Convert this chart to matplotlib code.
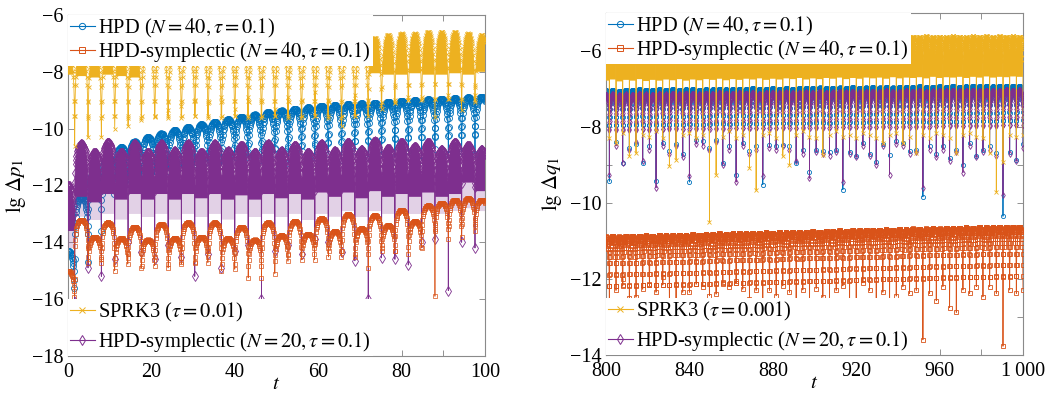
import numpy as np
import matplotlib
matplotlib.use("Agg")
import matplotlib.pyplot as plt
from matplotlib.lines import Line2D
from matplotlib.ticker import MultipleLocator, FuncFormatter

plt.rcParams['font.family'] = ['Liberation Serif', 'DejaVu Serif']
plt.rcParams['mathtext.fontset'] = 'stix'

C_BLUE, C_ORANGE, C_YELLOW, C_PURPLE = '#0072BD', '#D95319', '#EDB120', '#7E2F8E'

# ---------------------------------------------------------------- hump grid
HUMP_PERIOD = 3.2
LEFT_FIRST_CENTER, LEFT_N = 0.0, 32
RIGHT_FIRST_CENTER, RIGHT_N = 800.0, 63

# shape of one arch as read from the HPD arches: fraction of hump, drop below peak
HUMP_FRAC = [1/64, 1/32, 2/32, 3/32, 4/32, 5/32, 6/32, 7/32, 8/32,
             9/32, 10/32, 11/32, 12/32, 13/32, 14/32, 15/32, 16/32]
HUMP_DROP = [-1.31, -1.01, -0.71, -0.54, -0.42, -0.33, -0.25, -0.19, -0.15,
             -0.11, -0.08, -0.055, -0.035, -0.019, -0.008, -0.002, 0.0]

# ---------------------------------------------------------------- left panel (lg dp1)
BLUE_L_TOP = [-14.3, -12.4, -11.5, -11.0, -10.65, -10.45, -10.3, -10.17,
              -10.05, -9.95, -9.85, -9.76, -9.67, -9.58, -9.5, -9.42,
              -9.36, -9.3, -9.25, -9.2, -9.17, -9.14, -9.11, -9.08,
              -9.05, -9.02, -9.0, -8.97, -8.95, -8.92, -8.9, -8.88]
BLUE_L_DIP = [-16.2, -14.6, -14.7, -13.6, -12.2, -11.4, -11.3, -11.1,
              -11.0, -11.2, -10.9, -11.0, -11.3, -10.9, -11.0, -11.1,
              -10.9, -11.2, -10.8, -11.0, -10.9, -11.1, -10.8, -11.0,
              -10.9, -11.0, -10.8, -11.1, -10.7, -10.9, -10.8, -10.9,
              -10.6]

ORANGE_L_TOP = [-15.0, -13.2, -13.8, -13.3, -13.85, -13.45, -13.9, -13.35,
                -13.85, -13.3, -13.8, -13.3, -13.85, -13.45, -13.9, -13.3,
                -13.75, -13.25, -13.7, -13.15, -13.6, -13.0, -13.5, -13.05,
                -13.4, -12.85, -13.25, -12.7, -12.6, -12.5, -12.45, -12.5]
ORANGE_L_DIP = [-17.0, -15.3, -14.2, -14.6, -15.0, -14.4, -14.9, -14.5,
                -14.9, -14.7, -14.7, -14.3, -15.0, -14.95, -15.25, -15.25,
                -15.1, -14.4, -14.0, -14.0, -14.2, -14.3, -14.5, -14.9,
                -14.2, -14.3, -14.4, -14.2, -15.9, -13.9, -13.8, -13.6,
                -13.7]

YELLOW_L_TOP = [-7.2, -7.2, -7.25, -7.2, -7.2, -7.25, -7.2, -7.2,
                -7.25, -7.2, -7.2, -7.25, -7.2, -7.2, -7.25, -7.2,
                -7.2, -7.25, -7.2, -7.2, -7.25, -7.2, -7.2, -6.8,
                -6.7, -6.65, -6.65, -6.6, -6.6, -6.6, -6.65, -6.7]
YELLOW_L_LOW = [-8.1, -8.15, -8.2, -8.1, -8.15, -8.2, -7.2, -7.2,
                -7.25, -7.2, -7.2, -7.25, -7.2, -7.2, -7.25, -7.2,
                -7.2, -7.25, -7.2, -7.2, -7.25, -7.2, -7.2, -8.05,
                -8.1, -8.1, -8.05, -8.1, -8.1, -8.05, -8.1, -8.0]
YELLOW_L_DIP = [-11.0, -10.6, -10.3, -10.3, -10.0, -9.9, -9.7, -9.6,
                -9.35, -9.2, -9.0, -9.1, -8.9, -9.3, -8.9, -9.0,
                -9.3, -8.9, -9.0, -8.7, -9.0, -9.9, -8.8, -9.0,
                -9.3, -9.1, -8.9, -8.9, -9.6, -8.8, -9.35, -8.8,
                -8.8]

PURPLE_L_TOP = [-12.0, -10.55, -10.85, -10.5, -10.85, -10.55, -10.85, -10.55,
                -10.8, -10.55, -10.85, -10.55, -10.8, -10.6, -10.85, -10.55,
                -10.8, -10.6, -10.85, -10.55, -10.8, -10.5, -10.75, -10.45,
                -10.7, -10.5, -10.65, -10.5, -10.75, -10.5, -10.6, -10.75]
PURPLE_L_LOW = [-13.6, -12.4, -12.6, -12.3, -12.5, -12.3, -12.5, -12.3,
                -12.5, -12.3, -12.45, -12.3, -12.5, -12.35, -12.5, -12.3,
                -12.45, -12.3, -12.5, -12.25, -12.4, -12.25, -12.45, -12.2,
                -12.4, -12.3, -12.4, -12.25, -12.4, -12.3, -11.9, -12.2]
PURPLE_L_FADE = [-14.2, -13.1, -13.2, -13.0, -13.2, -13.0, -13.1, -13.0,
                 -13.2, -13.0, -13.1, -13.0, -13.2, -13.0, -13.1, -13.0,
                 -13.1, -13.0, -13.2, -13.0, -13.1, -12.9, -13.1, -12.9,
                 -13.0, -12.9, -13.0, -12.9, -13.0, -12.9, -12.8, -12.9]
PURPLE_L_DIP = [-16.5, -16.1, -14.9, -15.2, -14.6, -14.0, -14.35, -14.6,
                -14.1, -14.5, -15.2, -14.4, -14.9, -14.3, -14.1, -16.0,
                -14.3, -14.1, -14.4, -13.9, -14.0, -14.35, -14.65, -16.0,
                -14.55, -14.6, -14.8, -14.0, -13.9, -15.7, -14.0, -14.2,
                -13.7]

# ---------------------------------------------------------------- right panel (lg dq1)
BLUE_R_TOP = [-7.03, -7.02, -7.04, -7.02, -7.03, -7.01, -7.02, -7.03, -7.01, -7.02,
              -7.00, -7.02, -7.01, -7.00, -7.02, -7.00, -7.01, -6.99, -7.01, -7.00,
              -6.99, -7.00, -6.98, -7.00, -6.99, -6.98, -6.99, -6.97, -6.99, -6.98,
              -6.97, -6.98, -6.96, -6.98, -6.97, -6.96, -6.97, -6.95, -6.97, -6.96,
              -6.95, -6.96, -6.94, -6.96, -6.95, -6.94, -6.95, -6.93, -6.95, -6.94,
              -6.93, -6.94, -6.92, -6.94, -6.93, -6.92, -6.93, -6.92, -6.93, -6.92,
              -6.91, -6.92, -6.91]
BLUE_R_DIP = [-8.6, -9.43, -8.4, -8.95, -8.55, -8.45, -8.95, -8.5, -9.43, -8.42,
              -8.64, -8.46, -8.7, -9.45, -8.33, -8.38, -8.55, -8.33, -8.95, -8.51,
              -9.27, -8.42, -8.62, -8.51, -9.52, -8.48, -8.51, -8.48, -8.51, -8.95,
              -8.6, -9.18, -8.6, -8.62, -8.67, -8.6, -9.65, -8.65, -8.76, -8.42,
              -8.7, -8.93, -8.44, -8.73, -8.36, -8.42, -8.64, -8.6, -9.84, -8.51,
              -8.71, -8.51, -8.81, -8.6, -8.99, -8.42, -8.77, -8.6, -8.51, -8.68,
              -10.35, -8.65, -8.86, -8.46]

ORANGE_R_TOP = [-10.88, -10.87, -10.88, -10.86, -10.87, -10.86, -10.85, -10.86, -10.84, -10.85,
                -10.84, -10.83, -10.84, -10.82, -10.83, -10.81, -10.82, -10.80, -10.81, -10.80,
                -10.79, -10.80, -10.78, -10.79, -10.77, -10.78, -10.76, -10.77, -10.75, -10.76,
                -10.75, -10.74, -10.75, -10.73, -10.74, -10.72, -10.73, -10.71, -10.72, -10.70,
                -10.71, -10.70, -10.69, -10.70, -10.68, -10.69, -10.67, -10.68, -10.67, -10.66,
                -10.67, -10.65, -10.66, -10.65, -10.64, -10.65, -10.63, -10.64, -10.63, -10.62,
                -10.63, -10.62, -10.62]
ORANGE_R_LOW = [-11.15, -11.12, -11.14, -11.11, -11.13, -11.10, -11.12, -11.10, -11.09, -11.10,
                -11.08, -11.07, -11.09, -11.06, -11.07, -11.05, -11.06, -11.04, -11.05, -11.04,
                -11.03, -11.04, -11.02, -11.03, -11.01, -11.02, -11.00, -11.01, -10.99, -11.00,
                -10.99, -10.98, -10.99, -10.97, -10.98, -10.96, -10.97, -10.95, -10.96, -10.94,
                -10.95, -10.94, -10.93, -10.94, -10.92, -10.93, -10.91, -10.92, -10.91, -10.90,
                -10.91, -10.89, -10.90, -10.89, -10.88, -10.89, -10.87, -10.88, -10.87, -10.86,
                -10.87, -10.86, -10.86]
ORANGE_R_DIP = [-12.3, -13.43, -12.3, -12.0, -12.51, -12.48, -12.27, -12.13, -12.35, -11.95,
                -12.6, -12.62, -12.35, -12.35, -12.13, -12.2, -12.44, -12.4, -12.07, -12.2,
                -12.05, -12.27, -12.53, -12.3, -12.62, -12.3, -12.44, -12.18, -12.35, -12.77,
                -12.29, -12.98, -12.25, -12.48, -12.57, -12.3, -12.18, -13.25, -12.6, -12.1,
                -12.3, -12.79, -12.35, -12.94, -12.45, -12.2, -12.38, -12.3, -13.6, -12.38,
                -12.57, -12.2, -12.75, -12.88, -12.29, -12.38, -12.2, -12.47, -12.2, -12.38,
                -13.77, -12.29, -12.38, -12.29]

YELLOW_R_TOP = [-5.66, -5.65, -5.67, -5.65, -5.66, -5.64, -5.66, -5.65, -5.67, -5.65,
                -5.66, -5.64, -5.65, -5.66, -5.64, -5.65, -5.66, -5.64, -5.65, -5.63,
                -5.65, -5.64, -5.66, -5.64, -5.65, -5.63, -5.65, -5.64, -5.63, -5.65,
                -5.64, -5.63, -5.65, -5.63, -5.64, -5.62, -5.64, -5.63, -5.64, -5.62,
                -5.63, -5.64, -5.62, -5.63, -5.62, -5.64, -5.62, -5.63, -5.61, -5.63,
                -5.62, -5.63, -5.61, -5.62, -5.63, -5.61, -5.62, -5.61, -5.63, -5.61,
                -5.62, -5.61, -5.62]
YELLOW_R_LOW = [-6.78, -6.75, -6.80, -6.76, -6.78, -6.74, -6.79, -6.76, -6.78, -6.75,
                -6.77, -6.74, -6.78, -6.75, -6.77, -6.74, -6.76, -6.73, -6.77, -6.74,
                -6.76, -6.73, -6.75, -6.72, -6.76, -6.73, -6.75, -6.72, -6.74, -6.71,
                -6.75, -6.72, -6.74, -6.71, -6.73, -6.70, -6.74, -6.71, -6.73, -6.70,
                -6.72, -6.70, -6.73, -6.69, -6.72, -6.70, -6.71, -6.69, -6.72, -6.68,
                -6.71, -6.69, -6.70, -6.68, -6.71, -6.68, -6.70, -6.67, -6.70, -6.68,
                -6.69, -6.67, -6.68]
YELLOW_R_DIP = [-8.2, -8.3, -8.42, -8.15, -8.77, -8.69, -8.2, -8.25, -8.1, -8.3,
                -9.03, -8.86, -8.2, -8.15, -8.3, -8.2, -10.49, -9.25, -8.25, -8.1,
                -8.3, -8.2, -9.08, -9.67, -8.2, -8.15, -8.3, -8.77, -9.01, -8.2,
                -8.1, -8.25, -8.3, -8.73, -8.2, -8.1, -8.25, -8.2, -8.3, -8.15,
                -8.2, -8.3, -8.42, -8.2, -8.15, -8.42, -8.25, -8.69, -8.2, -8.3,
                -8.15, -8.2, -8.3, -8.69, -8.2, -8.15, -8.25, -8.3, -8.69, -9.72,
                -8.93, -8.2, -8.25, -8.2]

PURPLE_R_TOP = [-7.15, -7.14, -7.16, -7.14, -7.15, -7.13, -7.14, -7.15, -7.13, -7.14,
                -7.12, -7.14, -7.13, -7.12, -7.14, -7.12, -7.13, -7.11, -7.13, -7.12,
                -7.11, -7.12, -7.10, -7.12, -7.11, -7.10, -7.11, -7.09, -7.11, -7.10,
                -7.09, -7.10, -7.08, -7.10, -7.09, -7.08, -7.09, -7.07, -7.09, -7.08,
                -7.07, -7.08, -7.06, -7.08, -7.07, -7.06, -7.07, -7.05, -7.07, -7.06,
                -7.05, -7.06, -7.04, -7.06, -7.05, -7.04, -7.05, -7.04, -7.05, -7.04,
                -7.03, -7.04, -7.03]
PURPLE_R_DIP = [-8.7, -9.25, -8.5, -8.95, -8.6, -8.4, -8.9, -8.6, -9.6, -8.5,
                -8.7, -8.5, -8.8, -9.3, -8.45, -8.5, -8.6, -8.4, -9.0, -8.6,
                -9.45, -8.5, -8.7, -8.6, -9.3, -8.55, -8.6, -8.5, -8.6, -8.9,
                -8.7, -9.35, -8.65, -8.7, -8.75, -8.65, -9.45, -8.7, -8.8, -8.5,
                -8.75, -9.0, -8.5, -9.25, -8.45, -8.5, -8.7, -8.65, -9.6, -8.6,
                -8.8, -8.6, -8.9, -8.65, -9.2, -8.5, -8.8, -8.65, -8.6, -8.75,
                -9.8, -8.7, -8.9, -8.55]

LABELS = [r'HPD ($N=40, \tau=0.1$)',
          r'HPD-symplectic ($N=40, \tau=0.1$)',
          r'SPRK3 ($\tau=0.01$)',
          r'HPD-symplectic ($N=20, \tau=0.1$)']
LABELS_R = [LABELS[0], LABELS[1], r'SPRK3 ($\tau=0.001$)', LABELS[3]]


def hump_series(first_center, n, top, dip, scale):
    frac = np.array(HUMP_FRAC)
    drop = np.array(HUMP_DROP)
    f_full = np.concatenate([frac, 1.0 - frac[-2::-1]])
    d_full = np.concatenate([drop, drop[-2::-1]])
    centers = first_center + HUMP_PERIOD * np.arange(n)
    ts, ys, idx = [], [], []
    for i in range(n):
        b = centers[i] - HUMP_PERIOD / 2
        ts.append(b); ys.append(dip[i]); idx.append(i)
        ts.extend(b + f_full * HUMP_PERIOD)
        ys.extend(top[i] + scale * d_full)
        idx.extend([i] * len(f_full))
    ts.append(centers[-1] + HUMP_PERIOD / 2); ys.append(dip[n]); idx.append(n - 1)
    return np.array(ts), np.array(ys), np.array(idx)


def draw(ax, first_center, n, top, dip, scale, color, marker, ms, z,
         low=None, fade=None, lw=0.6, mew=0.6):
    t, y, idx = hump_series(first_center, n, top, dip, scale)
    if low is not None:
        lo = np.asarray(low)[idx]
        if fade is not None:
            fa = np.asarray(fade)[idx]
            ax.fill_between(t, fa, lo, where=y >= lo, interpolate=True,
                            color=color, alpha=0.22, lw=0, zorder=z - 0.2)
        ax.fill_between(t, lo, y, where=y >= lo, interpolate=True,
                        color=color, lw=0, zorder=z - 0.1)
    ax.plot(t, y, color=color, lw=lw, marker=marker, ms=ms, mfc='none',
            mew=mew, zorder=z)


fig = plt.figure(figsize=(10.59, 3.94), dpi=100)
axL = fig.add_axes([68 / 1059, 1 - 356 / 394, 417 / 1059, 341 / 394])
axR = fig.add_axes([606 / 1059, 1 - 355 / 394, 417 / 1059, 342 / 394])

# left panel
draw(axL, LEFT_FIRST_CENTER, LEFT_N, BLUE_L_TOP, BLUE_L_DIP, 1.0, C_BLUE, 'o', 4.3, 2)
draw(axL, LEFT_FIRST_CENTER, LEFT_N, PURPLE_L_TOP, PURPLE_L_DIP, 1.0, C_PURPLE, 'd', 5.0, 3,
     low=PURPLE_L_LOW, fade=PURPLE_L_FADE)
draw(axL, LEFT_FIRST_CENTER, LEFT_N, ORANGE_L_TOP, ORANGE_L_DIP, 0.7, C_ORANGE, 's', 3.2, 4,
     lw=0.5, mew=0.5)
draw(axL, LEFT_FIRST_CENTER, LEFT_N, YELLOW_L_TOP, YELLOW_L_DIP, 1.8, C_YELLOW, 'x', 3.0, 5,
     low=YELLOW_L_LOW)

# right panel
draw(axR, RIGHT_FIRST_CENTER, RIGHT_N, BLUE_R_TOP, BLUE_R_DIP, 0.7, C_BLUE, 'o', 3.0, 2)
draw(axR, RIGHT_FIRST_CENTER, RIGHT_N, PURPLE_R_TOP, PURPLE_R_DIP, 0.7, C_PURPLE, 'd', 3.0, 3)
draw(axR, RIGHT_FIRST_CENTER, RIGHT_N, ORANGE_R_TOP, ORANGE_R_DIP, 1.0, C_ORANGE, 's', 3.4, 4,
     low=ORANGE_R_LOW)
draw(axR, RIGHT_FIRST_CENTER, RIGHT_N, YELLOW_R_TOP, YELLOW_R_DIP, 0.5, C_YELLOW, 'x', 3.0, 5,
     low=YELLOW_R_LOW)


def minus_fmt(v):
    s = f"{abs(v):g}"
    return ("\u2212" + s) if v < 0 else s


def style(ax, xlim, ylim, xstep, xlab_step, ystep, ylab_step, ylabel, ylab_x):
    ax.set_xlim(*xlim)
    ax.set_ylim(*ylim)
    ax.xaxis.set_major_locator(MultipleLocator(xstep))
    ax.yaxis.set_major_locator(MultipleLocator(ystep))

    def xf(v, pos):
        if abs(v / xlab_step - round(v / xlab_step)) > 1e-6:
            return ''
        iv = int(round(v))
        return "1\u2009000" if iv == 1000 else str(iv)

    def yf(v, pos):
        if abs(v / ylab_step - round(v / ylab_step)) > 1e-6:
            return ''
        return minus_fmt(int(round(v)))

    ax.xaxis.set_major_formatter(FuncFormatter(xf))
    ax.yaxis.set_major_formatter(FuncFormatter(yf))
    ax.tick_params(direction='in', top=True, right=True, length=4, width=0.6,
                   color='#808080', labelsize=14.5)
    ax.tick_params(axis='x', pad=5)
    ax.tick_params(axis='y', pad=3)
    for sp in ax.spines.values():
        sp.set_color('#8a8a8a')
        sp.set_linewidth(0.8)
    ax.set_xlabel(r'$t$', fontsize=15)
    ax.xaxis.set_label_coords(0.5, -0.055)
    ax.set_ylabel(ylabel, fontsize=15)
    ax.yaxis.set_label_coords(ylab_x, 0.5)


style(axL, (0, 100), (-18, -6), 10, 20, 2, 2, r'$\mathrm{lg}\ \Delta p_{1}$', -0.097)
style(axR, (800, 1000), (-14, -5), 20, 40, 1, 2, r'$\mathrm{lg}\ \Delta q_{1}$', -0.1)


def handle(color, marker, ms):
    return Line2D([], [], color=color, lw=0.8, marker=marker, ms=ms, mfc='none', mew=0.7)


def legends(ax, labels):
    hs = [handle(C_BLUE, 'o', 4.5), handle(C_ORANGE, 's', 4),
          handle(C_YELLOW, 'x', 4), handle(C_PURPLE, 'd', 5)]
    common = dict(frameon=True, fancybox=False, edgecolor='none', facecolor='white',
                  framealpha=1, fontsize=14.8, handlelength=1.2, handletextpad=0.15,
                  borderpad=0.1, borderaxespad=0.0, numpoints=1)
    l1 = ax.legend(hs[:2], labels[:2], loc='upper left', bbox_to_anchor=(0.0, 1.0),
                   labelspacing=0.0, **common)
    l1.set_zorder(20)
    ax.add_artist(l1)
    l2 = ax.legend(hs[2:], labels[2:], loc='lower left', bbox_to_anchor=(0.0, 0.0),
                   labelspacing=0.3, **common)
    l2.set_zorder(20)


legends(axL, LABELS)
legends(axR, LABELS_R)

fig.savefig('out.png', dpi=100)
